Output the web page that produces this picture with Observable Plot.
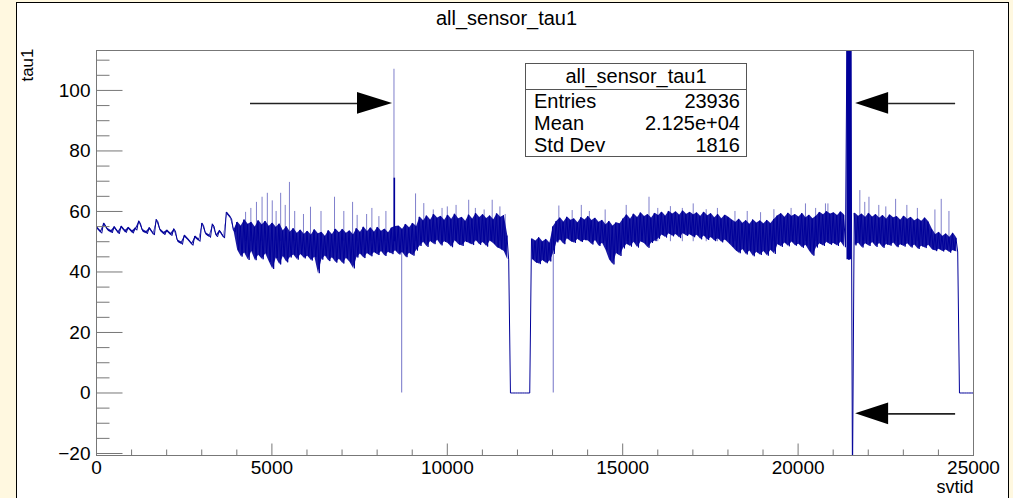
<!DOCTYPE html>
<html><head><meta charset="utf-8">
<script src="https://cdn.jsdelivr.net/npm/d3@7"></script>
<script src="https://cdn.jsdelivr.net/npm/@observablehq/plot@0.6"></script>
<style>
html,body{margin:0;padding:0;background:#fff8e0;}
body{width:1013px;height:498px;overflow:hidden;position:relative;font-family:"Liberation Sans",Arial,Helvetica,sans-serif;}
#pad{position:absolute;left:16px;top:2px;width:991px;height:520px;background:#fff;border:1px solid #000;}
#chart{position:absolute;left:0;top:0;}
#stats{position:absolute;left:525px;top:63px;width:222px;height:94px;border:1px solid #555;background:#fff;font-size:20px;color:#000;box-sizing:border-box;}
#stats .t{height:25px;line-height:25px;text-align:center;border-bottom:1px solid #555;}
#stats .r{height:22px;line-height:22px;display:flex;justify-content:space-between;padding:0 6px 0 8px;}
</style>
</head><body>
<div id="pad"></div>
<div id="chart"></div>
<div id="stats"></div>
<script>
// ---- data ----
const title = "all_sensor_tau1";
const xLabel = "svtid";
const yLabel = "tau1";
const binWidth = 100;           // svtid per bin (display binning)
// upper envelope of tau1 per 100-svtid bin, rows of 1000 svtid
const tauHigh = [
  54.9,53.6,56.2,54.4,53.7,55.0,53.4,55.2,53.8,54.8,
  53.6,54.6,56.9,54.0,53.4,54.7,53.0,57.4,54.2,53.1,
  53.9,52.8,54.3,50.6,49.9,52.2,51.0,49.6,51.9,50.9,
  56.2,53.0,52.2,55.9,52.4,53.8,52.0,59.8,58.4,54.0,
  56.5,55.2,57.3,55.8,56.4,54.9,57.0,55.6,56.8,55.1,
  56.2,54.8,55.9,53.6,55.0,53.2,54.4,52.8,53.9,52.5,
  53.5,52.2,54.0,52.6,53.1,51.8,53.7,52.4,54.2,53.0,
  54.1,52.8,53.6,52.3,54.4,53.1,54.9,53.4,54.6,53.2,
  54.8,53.5,54.2,53.0,54.6,55.0,55.2,54.1,55.8,54.6,
  56.1,55.0,58.2,56.9,58.6,57.2,59.1,57.8,58.4,57.1,
  58.8,57.4,59.2,57.6,58.1,56.8,58.9,57.5,59.4,58.0,
  59.0,57.7,58.6,57.3,59.3,58.1,58.7,52.0,0,0,
  0,0,0,0,51.0,50.2,51.4,50.0,50.8,49.6,
  55.0,56.8,57.9,56.5,58.2,57.1,57.6,56.3,58.0,57.2,
  58.4,57.0,57.8,56.4,57.1,55.6,56.8,55.2,56.3,55.9,
  57.6,58.9,57.5,59.2,58.0,59.6,58.3,59.0,57.8,59.4,
  58.7,59.8,58.5,60.1,59.2,59.9,58.8,60.2,59.1,59.7,
  58.9,59.6,58.4,59.8,58.6,59.3,57.9,59.1,57.6,58.8,
  58.1,57.2,56.4,57.5,56.1,57.0,55.8,57.3,56.2,56.9,
  55.9,57.1,56.0,57.4,58.6,59.3,58.1,59.5,58.4,59.0,
  58.2,59.4,57.9,58.8,57.6,58.5,59.7,58.9,60.0,59.2,
  59.6,58.7,59.9,58.8,130,130,59.5,58.4,59.2,58.1,
  59.4,58.2,59.0,57.8,58.7,57.5,58.9,57.9,58.3,57.2,
  58.5,57.4,58.1,56.9,57.6,56.8,57.9,56.6,54.2,52.4,
  53.1,51.8,52.6,51.5,52.9,51.2,0,0,0,0
];
// lower envelope of tau1 per bin
const tauLow = [
  54.1,52.8,55.4,53.6,52.9,54.2,52.6,54.4,53.0,54.0,
  52.8,53.8,56.1,53.2,52.6,53.9,52.2,56.6,53.4,52.3,
  53.1,52.0,53.5,49.8,49.1,51.4,50.2,48.8,51.1,50.1,
  55.4,52.2,51.4,55.1,51.6,53.0,51.2,59.0,57.6,53.2,
  47.2,45.1,46.3,44.0,46.8,43.9,45.5,44.2,46.0,43.4,
  41.0,44.6,42.5,45.1,43.2,44.8,45.6,44.1,45.8,44.5,
  45.2,43.8,44.9,39.6,44.1,45.3,43.6,44.7,43.1,44.2,
  42.8,44.5,43.2,41.2,44.8,45.9,44.6,46.1,45.2,46.4,
  45.6,46.8,45.3,46.5,45.9,47.0,45.8,46.4,44.9,46.2,
  45.4,47.1,48.6,49.8,48.3,50.1,49.2,50.5,48.8,50.0,
  49.4,48.2,50.3,49.1,48.6,50.0,49.5,48.9,50.4,49.0,
  49.7,48.4,50.2,49.3,48.1,47.5,46.8,44.0,0,0,
  0,0,0,0,44.2,43.1,42.6,43.8,42.9,43.5,
  46.0,49.8,50.6,49.2,51.0,50.1,49.6,50.8,49.9,50.5,
  50.2,49.1,50.4,48.6,49.5,47.2,44.0,42.5,46.1,45.3,
  47.8,49.2,48.4,49.8,48.1,50.0,49.3,48.0,49.6,50.2,
  51.0,52.2,51.4,52.6,51.8,52.4,51.2,52.7,51.9,52.3,
  51.5,52.1,50.8,51.9,50.6,51.4,50.2,51.0,49.8,50.6,
  49.5,48.3,47.1,46.2,47.4,45.8,46.9,45.2,46.5,45.6,
  46.8,45.4,47.2,46.0,49.1,48.3,49.6,48.5,49.9,48.7,
  49.2,48.0,48.8,46.9,45.4,48.1,49.3,48.6,49.8,49.0,
  49.4,48.6,49.9,48.2,44.0,-30,48.8,49.5,48.1,49.3,
  48.6,49.7,48.3,49.4,48.0,49.1,48.7,49.6,48.2,49.0,
  48.4,49.3,48.1,48.9,47.6,48.5,47.9,48.8,47.4,46.9,
  47.5,46.8,47.3,46.4,47.1,46.6,0,0,0,0
];
// dense burst of over-range bins near svtid 21450 (thick bar)
const burstX = [21450];
const burstLow = [44];
const burstHigh = [130];
// strong single-bin spike (dark)
const strongSpikeX = [8490];
const strongSpikeTop = [71];
// isolated single-bin spikes above the band (faint)
const spikeX   = [4250,4400,4560,4720,4870,5010,5120,5250,5380,5500,5650,5900,6100,6400,6785,7050,7300,7430,7700,7850,8050,8250,8480,
                  9095,9330,9600,9850,10000,10250,10610,10800,11050,11280,11500,11650,
                  13180,13560,13820,14050,14500,15100,15750,16000,16360,16700,17010,17380,17700,18200,18550,18930,19310,19800,20210,20500,20780,20850,
                  21760,21900,22020,22300,22500,22780,23100,23400,23900,24080,24300];
const spikeTop = [59.7,61.0,63.0,64.7,66.0,63.5,60.0,66.0,62.0,69.6,60.0,59.0,61.4,60.0,64.7,60.0,63.0,58.7,59.0,61.0,58.3,60.0,107,
                  65.8,62.6,60.5,61.0,61.5,62.0,63.7,61.0,60.5,63.7,61.5,59.0,
                  61.8,60.3,62.0,60.0,60.5,62.0,64.7,61.0,61.6,61.0,62.5,60.6,61.0,60.0,60.0,59.6,60.6,61.0,62.5,61.0,62.5,62.5,
                  66.9,63.0,64.7,62.0,61.5,64.0,62.0,61.0,60.5,64.0,60.0];
// single bins that fall to zero
const dropX   = [8700, 13020];
const dropTop = [47, 46];
// annotation arrows (data units): tail, head base, tip
const arrowY    = [95.7, 95.7, -6.9];
const arrowTail = [4390, 24490, 24490];
const arrowBase = [7440, 22580, 22580];
const arrowTip  = [8440, 21640, 21640];
const arrowHalf = 3.6;
// axes
const xMajor = [0,5000,10000,15000,20000,25000];
const xMajorLabels = ["0","5000","10000","15000","20000","25000"];
const xMinor = [1000,2000,3000,4000,6000,7000,8000,9000,11000,12000,13000,14000,16000,17000,18000,19000,21000,22000,23000,24000];
const yMajor = [-20,0,20,40,60,80,100];
const yMajorLabels = ["\u221220","0","20","40","60","80","100"];
const yMinor = [-15,-10,-5,5,10,15,25,30,35,45,50,55,65,70,75,85,90,95,105,110];
// stats box
const statNames  = ["Entries","Mean","Std Dev"];
const statValues = ["23936","2.125e+04","1816"];

// ---- build ----
const histLine = [];
tauHigh.forEach((h, i) => {
  histLine.push({x: i * binWidth, y: h});
  histLine.push({x: i * binWidth + binWidth / 2, y: tauLow[i]});
});
histLine.push({x: tauHigh.length * binWidth, y: 0});

// filled envelope (skip the out-of-range bins so they stay single lines)
const band = tauHigh.map((h, i) => {
  const ok = h < 100 && tauLow[i] > 0;
  return {x: i * binWidth + binWidth / 4, lo: ok ? tauLow[i] : NaN, hi: ok ? h : NaN};
});
const burst = burstX.map((x, i) => ({x, lo: burstLow[i], hi: burstHigh[i]}));
const strong = strongSpikeX.map((x, i) => ({x, top: strongSpikeTop[i]}));

const spikes = spikeX.map((x, i) => ({x, top: spikeTop[i]}));
const drops = dropX.map((x, i) => ({x, top: dropTop[i]}));
const arrows = arrowY.map((y, i) => ({y, tail: arrowTail[i], base: arrowBase[i], tip: arrowTip[i]}));
const heads = arrows.flatMap((a, i) => [
  {k: i, x: a.tip, y1: a.y, y2: a.y},
  {k: i, x: a.base, y1: a.y - arrowHalf, y2: a.y + arrowHalf}
]);

const tickUp = len => ({draw(ctx){ ctx.moveTo(0, 0); ctx.lineTo(0, -len); }});
const tickRight = len => ({draw(ctx){ ctx.moveTo(0, 0); ctx.lineTo(len, 0); }});
const blue = "#000099";
const axisCol = "#777";

const chart = Plot.plot({
  width: 1013, height: 498,
  marginLeft: 96, marginRight: 40, marginTop: 50, marginBottom: 43,
  style: {background: "transparent", overflow: "visible", fontFamily: "'Liberation Sans', Arial, Helvetica, sans-serif", fontSize: "19px", color: "#000"},
  x: {domain: [0, 25000], axis: null},
  y: {domain: [-20.66, 113.2], axis: null},
  marks: [
    Plot.ruleX(spikes, {x: "x", y1: 50, y2: "top", stroke: blue, strokeOpacity: 0.5, strokeWidth: 1, clip: true}),
    Plot.ruleX(drops, {x: "x", y1: 0, y2: "top", stroke: blue, strokeOpacity: 0.55, strokeWidth: 1, clip: true}),
    Plot.ruleX(strong, {x: "x", y1: 50, y2: "top", stroke: blue, strokeWidth: 1.6, clip: true}),
    Plot.areaY(band, {x: "x", y1: "lo", y2: "hi", curve: "linear", fill: blue, fillOpacity: 0.9, clip: true}),
    Plot.line(histLine, {x: "x", y: "y", curve: "linear", stroke: blue, strokeWidth: 1, clip: true}),
    Plot.ruleX(burst, {x: "x", y1: "lo", y2: "hi", stroke: blue, strokeWidth: 5, clip: true}),
    Plot.frame({stroke: axisCol, strokeWidth: 1}),
    Plot.dot(xMajor, {x: d => d, frameAnchor: "bottom", symbol: tickUp(12), stroke: axisCol, fill: "none", strokeWidth: 1}),
    Plot.dot(xMinor, {x: d => d, frameAnchor: "bottom", symbol: tickUp(6), stroke: axisCol, fill: "none", strokeWidth: 1}),
    Plot.dot(yMajor, {y: d => d, frameAnchor: "left", symbol: tickRight(26), stroke: axisCol, fill: "none", strokeWidth: 1}),
    Plot.dot(yMinor, {y: d => d, frameAnchor: "left", symbol: tickRight(13), stroke: axisCol, fill: "none", strokeWidth: 1}),
    Plot.text(xMajor, {x: d => d, text: (d, i) => xMajorLabels[i], frameAnchor: "bottom", dy: 5, lineAnchor: "top", fontSize: 19, fill: "#000"}),
    Plot.text(yMajor, {y: d => d, text: (d, i) => yMajorLabels[i], frameAnchor: "left", dx: -6, textAnchor: "end", fontSize: 19, fill: "#000"}),
    Plot.text([xLabel], {frameAnchor: "bottom-right", textAnchor: "end", lineAnchor: "middle", dy: 32, fontSize: 18, fill: "#000"}),
    Plot.text([yLabel], {frameAnchor: "top-left", rotate: -90, textAnchor: "end", lineAnchor: "middle", dx: -69, dy: -2, fontSize: 17, fill: "#000"}),
    Plot.text([title], {frameAnchor: "top", lineAnchor: "middle", dx: -28.5, dy: -32, fontSize: 20, fill: "#000"}),
    Plot.ruleY(arrows, {y: "y", x1: "tail", x2: "base", stroke: "#222", strokeWidth: 1.6}),
    Plot.areaY(heads, {x: "x", y1: "y1", y2: "y2", z: "k", fill: "#000", curve: "linear"})
  ]
});
document.getElementById("chart").appendChild(chart);

const box = document.getElementById("stats");
const t = document.createElement("div"); t.className = "t"; t.textContent = title; box.appendChild(t);
statNames.forEach((n, i) => {
  const r = document.createElement("div"); r.className = "r";
  const a = document.createElement("span"); a.textContent = n;
  const b = document.createElement("span"); b.textContent = statValues[i];
  r.appendChild(a); r.appendChild(b); box.appendChild(r);
});
</script>
</body></html>
